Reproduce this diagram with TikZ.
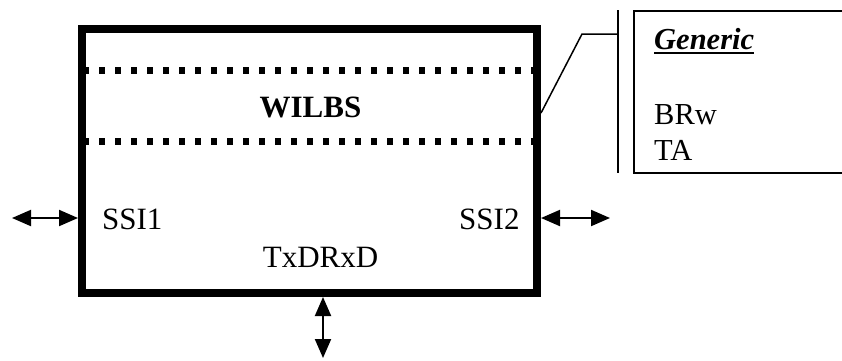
\documentclass[tikz,border=0pt]{standalone}
\usepackage{fontspec}
\setmainfont{Liberation Serif}
\usetikzlibrary{arrows.meta}
\tikzset{
  mainbox/.style={draw, line width=8pt, inner sep=0pt, minimum width=455pt, minimum height=264pt},
  dotline/.style={line width=7pt, dash pattern=on 6pt off 10pt},
  dbl/.style={line width=2pt, {Triangle[length=19pt,width=16pt]}-{Triangle[length=19pt,width=16pt]}},
  thin/.style={line width=1.5pt},
  lbl/.style={inner sep=0pt, anchor=base west, font=\fontsize{31}{36}\selectfont},
  clbl/.style={inner sep=0pt, anchor=base west, font=\fontsize{30.5}{36}\selectfont}
}
\begin{document}
\begin{tikzpicture}[x=1pt,y=-1pt]
\useasboundingbox (0,0) rectangle (842,360);
\node[mainbox] (box) at (309.5,161) {};
% dotted separators
\coordinate (d1) at (83,70);
\coordinate (d2) at (83,141);
\draw[dotline] (d1) -- (d1 -| box.east);
\draw[dotline] (d2) -- (d2 -| box.east);
% labels
\node[inner sep=0pt, anchor=base, font=\fontsize{31}{36}\selectfont\bfseries] (wilbs) at (310.5,117) {WILBS};
\node[lbl] (ssi1) at (102,229) {SSI1};
\node[lbl] (ssi2) at (459,229) {SSI2};
\node[inner sep=0pt, anchor=base, font=\fontsize{31}{36}\selectfont] (txd) at (320.5,267) {TxDRxD};
% arrows
\coordinate (la) at (12,218);
\coordinate (ra) at (610,218);
\coordinate (ba) at (323,358);
\draw[dbl] (la) -- (la -| box.west);
\draw[dbl] (ra -| box.east) -- (ra);
\draw[dbl] (ba |- box.south) -- (ba);
% callout
\coordinate (cv1) at (618,10);
\coordinate (cv2) at (618,173);
\coordinate (ck) at (582,34);
\coordinate (ct) at (541,113);
\draw[thin] (cv1) -- (cv2);
\draw[thin] (ct) -- (ck) -- (ck -| cv1);
\coordinate (cb1) at (845,11);
\coordinate (cb2) at (634,11);
\coordinate (cb3) at (634,173);
\coordinate (cb4) at (845,173);
\draw[thin] (cb1) -- (cb2) -- (cb3) -- (cb4);
\node[clbl, font=\fontsize{30.5}{36}\selectfont\bfseries\itshape] (gen) at (654,49) {Generic};
\draw[line width=2.5pt] ([yshift=-4pt]gen.base west) -- ([yshift=-4pt]gen.base east);
\node[clbl] (brw) at (654,124) {BRw};
\node[clbl] (ta) at (654,160) {TA};
\end{tikzpicture}
\end{document}
